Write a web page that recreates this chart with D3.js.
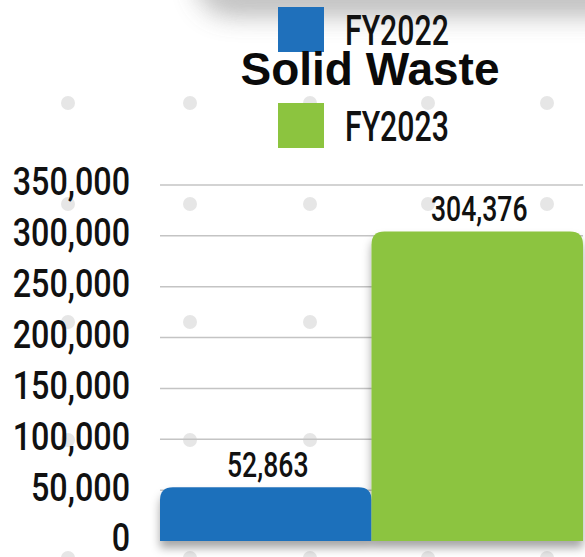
<!DOCTYPE html>
<html>
<head>
<meta charset="utf-8">
<script src="https://cdn.jsdelivr.net/npm/d3@7"></script>
<style>
  html, body { margin: 0; padding: 0; background: #ffffff; }
  svg { display: block; }
</style>
</head>
<body>
<svg id="chart" width="585" height="557"></svg>
<script>
// ---- data ----
const title = "Solid Waste";
const categories = ["FY2022", "FY2023"];
const values = [52863, 304376];
const colors = ["#1f70bb", "#8cc43f"];
const yTicks = [0, 50000, 100000, 150000, 200000, 250000, 300000, 350000];
const dotCols = [68, 190, 310, 428, 547];
const dotRows = [103, 204, 322, 440, 558];

const svg = d3.select("#chart");

const defs = svg.append("defs");
const topShadow = defs.append("filter").attr("id", "topShadow")
  .attr("x", "-50%").attr("y", "-50%").attr("width", "200%").attr("height", "200%");
topShadow.append("feGaussianBlur").attr("stdDeviation", 14);

const barShadow = defs.append("filter").attr("id", "barShadow")
  .attr("x", "-10%").attr("y", "-10%").attr("width", "120%").attr("height", "130%");
barShadow.append("feDropShadow").attr("dx", 0).attr("dy", 7).attr("stdDeviation", 5)
  .attr("flood-color", "#000").attr("flood-opacity", 0.35);

// background dots
const dotG = svg.append("g");
dotRows.forEach(ry => dotCols.forEach(cx => {
  dotG.append("circle").attr("cx", cx).attr("cy", ry).attr("r", 7).attr("fill", "#e6e6e6");
}));

// top card shadow
svg.append("rect").attr("x", 200).attr("y", -60).attr("width", 460).attr("height", 72)
  .attr("rx", 30).attr("fill", "#8a8a8a").attr("filter", "url(#topShadow)").attr("opacity", 0.8);
svg.append("rect").attr("x", 200).attr("y", -60).attr("width", 460).attr("height", 58)
  .attr("rx", 30).attr("fill", "#ffffff").attr("filter", "url(#topShadow)").attr("opacity", 0.6);

// scales
const y = d3.scaleLinear().domain([0, 350000]).range([541, 185]);
const x = d3.scaleBand().domain(categories).range([160, 583]).padding(0);

// gridlines
svg.append("g").selectAll("line").data(yTicks.filter(d => d > 0)).join("line")
  .attr("x1", 160).attr("x2", 583)
  .attr("y1", d => y(d)).attr("y2", d => y(d))
  .attr("stroke", "#c4c4c4").attr("stroke-width", 1.5);

// y axis labels
const fmt = d3.format(",");
const yAxis = svg.append("g").attr("transform", "translate(130,0)")
  .call(d3.axisLeft(y).tickValues(yTicks).tickSize(0).tickPadding(0).tickFormat(fmt));
yAxis.select(".domain").remove();
yAxis.selectAll("text")
  .attr("x", 0).attr("dy", null)
  .attr("dominant-baseline", "central")
  .attr("text-anchor", "end")
  .style("font-family", "Roboto, 'Noto Sans', sans-serif")
  .style("font-size", "38px")
  .style("font-weight", "500")
  .style("fill", "#111")
  .attr("transform", "translate(0,-3) scale(0.85,1)");

// bars with rounded top corners
const r = 13;
function barPath(x0, x1, yTop, yBase) {
  const rr = Math.min(r, (yBase - yTop));
  return `M${x0},${yBase} L${x0},${yTop + rr} Q${x0},${yTop} ${x0 + rr},${yTop} ` +
         `L${x1 - rr},${yTop} Q${x1},${yTop} ${x1},${yTop + rr} L${x1},${yBase} Z`;
}
const bars = svg.append("g").attr("filter", "url(#barShadow)");
bars.selectAll("path").data(categories).join("path")
  .attr("d", (c, i) => barPath(x(c), x(c) + x.bandwidth(), y(values[i]), y(0)))
  .attr("fill", (c, i) => colors[i]);

// value labels
svg.append("g").selectAll("text").data(categories).join("text")
  .attr("transform", (c, i) => `translate(${x(c) + x.bandwidth() / 2 + 2},${y(values[i]) - 10}) scale(0.76,1)`)
  .attr("text-anchor", "middle")
  .style("font-family", "Roboto, 'Noto Sans', sans-serif")
  .style("font-size", "35px")
  .style("font-weight", "500")
  .style("fill", "#111")
  .text((c, i) => fmt(values[i]));

// legend
const legendTops = [7, 103];
const legend = svg.append("g");
categories.forEach((c, i) => {
  const top = legendTops[i];
  legend.append("rect").attr("x", 278).attr("y", top).attr("width", 46).attr("height", 45)
    .attr("fill", colors[i]);
  legend.append("text")
    .attr("transform", `translate(345,${top + 38}) scale(0.72,1)`)
    .style("font-family", "Roboto, 'Noto Sans', sans-serif")
    .style("font-size", "42px")
    .style("font-weight", "500")
    .style("fill", "#111")
    .text(c);
});

// title
svg.append("text")
  .attr("x", 370).attr("y", 85)
  .attr("text-anchor", "middle")
  .style("font-family", "'Liberation Sans', Arial, sans-serif")
  .style("font-weight", "700")
  .style("font-size", "46px")
  .style("fill", "#0a0a0a")
  .text(title);
</script>
</body>
</html>
